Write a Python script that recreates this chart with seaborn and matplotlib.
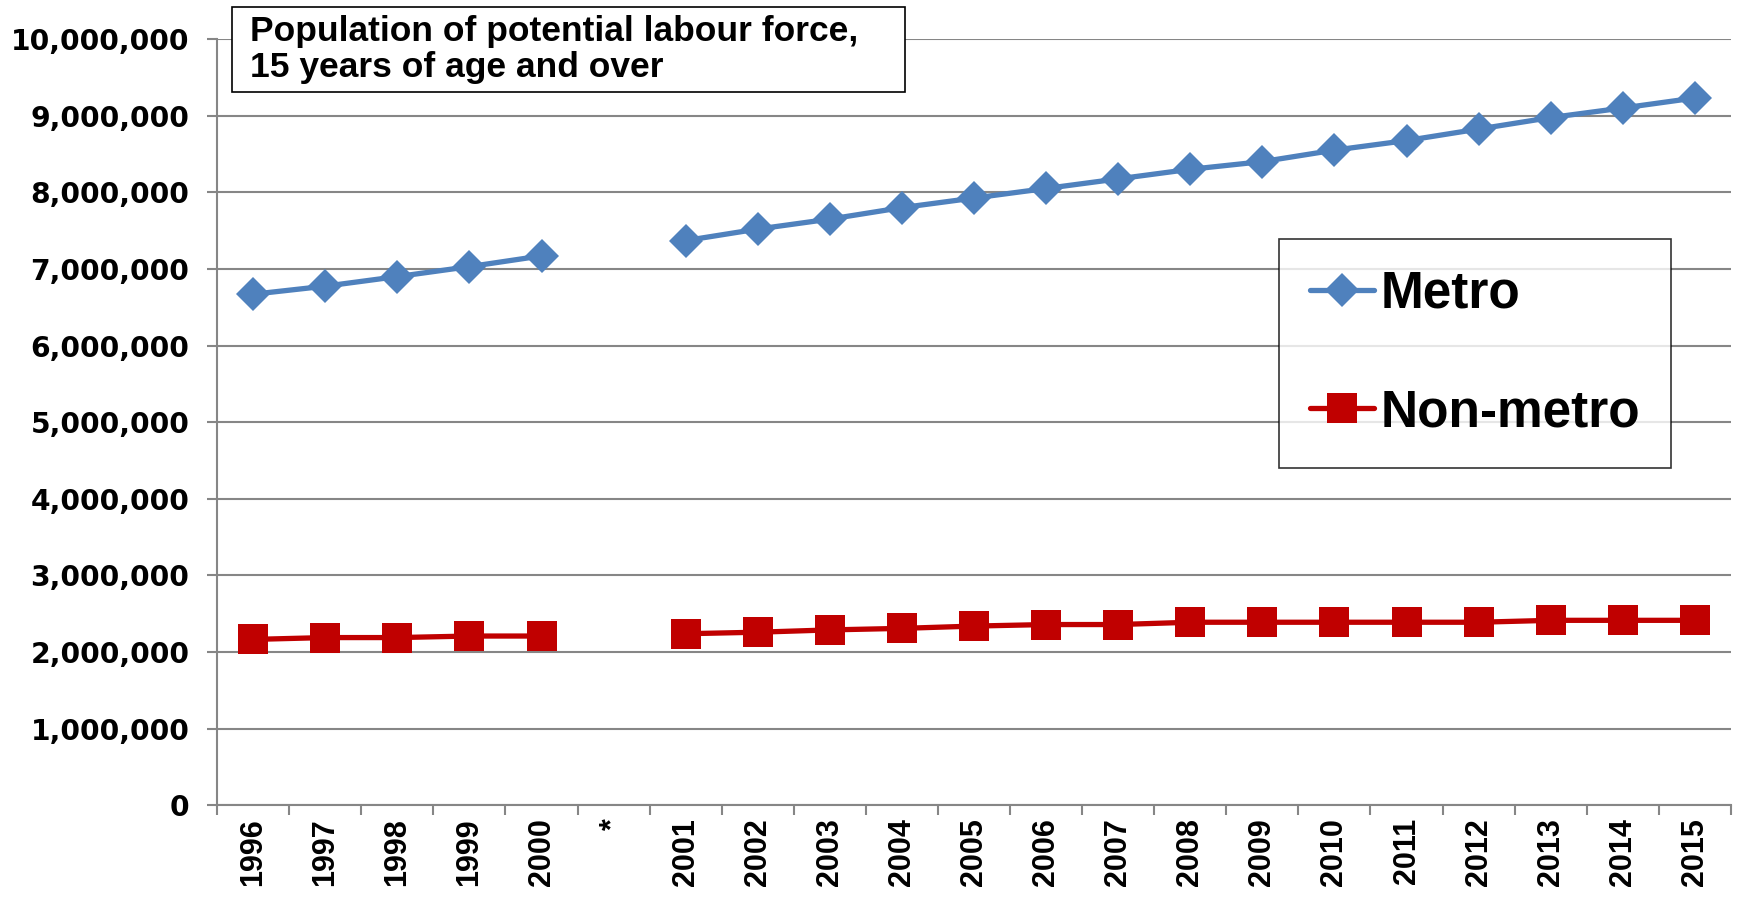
import pandas as pd
import matplotlib
matplotlib.use('Agg')
import matplotlib.pyplot as plt
from matplotlib.lines import Line2D
from matplotlib.patches import Rectangle
from matplotlib.ticker import FuncFormatter, FixedLocator
import seaborn as sns

# categories on the x axis, '*' marks the break in the series
labels = ['1996', '1997', '1998', '1999', '2000', '*',
          '2001', '2002', '2003', '2004', '2005', '2006', '2007', '2008',
          '2009', '2010', '2011', '2012', '2013', '2014', '2015']

metro = [6670000, 6775000, 6900000, 7030000, 7170000, None,
         7370000, 7520000, 7650000, 7800000, 7925000, 8050000, 8175000, 8300000,
         8400000, 8550000, 8675000, 8825000, 8975000, 9100000, 9230000]

non_metro = [2166000, 2190000, 2190000, 2210000, 2210000, None,
             2240000, 2260000, 2290000, 2310000, 2340000, 2360000, 2360000, 2390000,
             2390000, 2390000, 2390000, 2390000, 2415000, 2415000, 2415000]

title = 'Population of potential labour force,\n15 years of age and over'

blue = '#4F81BD'
red = '#C00000'
grey = '#868686'


def to_frame(values):
    df = pd.DataFrame({'pos': range(len(labels)), 'value': values})
    star = labels.index('*')
    df['segment'] = (df['pos'] > star).astype(int)
    return df.dropna()


sns.set_style('white')
plt.rcParams['font.family'] = ['Liberation Sans', 'DejaVu Sans']
plt.rcParams['text.color'] = 'black'
plt.rcParams['xtick.color'] = 'black'
plt.rcParams['ytick.color'] = 'black'

fig, ax = plt.subplots(figsize=(17.37, 9.07), dpi=100)
fig.subplots_adjust(left=0.125, right=0.9965, top=0.957, bottom=0.112)

sns.lineplot(data=to_frame(metro), x='pos', y='value', units='segment',
             estimator=None, color=blue, lw=3.8, marker='D', markersize=17.5,
             markeredgewidth=0, ax=ax, zorder=3)
sns.lineplot(data=to_frame(non_metro), x='pos', y='value', units='segment',
             estimator=None, color=red, lw=3.8, marker='s', markersize=21,
             markeredgewidth=0, ax=ax, zorder=3)

ax.set_xlim(-0.5, len(labels) - 0.5)
ax.set_ylim(0, 10000000)
ax.set_yticks(range(0, 10000001, 1000000))
ax.yaxis.set_major_formatter(FuncFormatter(lambda v, p: f'{v:,.0f}'))
ax.set_xticks(range(len(labels)))
ax.set_xticklabels(labels, rotation=90, fontsize=22, fontweight='bold', va='top')
ax.xaxis.set_minor_locator(FixedLocator([i - 0.5 for i in range(len(labels) + 1)]))
for t in ax.get_yticklabels():
    t.set_fontfamily('DejaVu Sans')
    t.set_fontweight('bold')
    t.set_fontsize(20.3)
ax.set_xlabel('')
ax.set_ylabel('')

ax.yaxis.grid(True, color=grey, lw=1.5)
ax.set_axisbelow(True)
for s in ['top', 'right']:
    ax.spines[s].set_visible(False)
for s in ['left', 'bottom']:
    ax.spines[s].set_color(grey)
    ax.spines[s].set_linewidth(1.5)
ax.tick_params(axis='y', length=7, width=1.5, color=grey, labelcolor='black', pad=13, left=True)
ax.tick_params(axis='x', which='major', length=0, pad=9, labelcolor='black')
ax.tick_params(axis='x', which='minor', length=7, width=1.5, color=grey, bottom=True)

handles = [Line2D([], [], color=blue, lw=3.8, marker='D', markersize=17.5, markeredgewidth=0),
           Line2D([], [], color=red, lw=3.8, marker='s', markersize=21, markeredgewidth=0)]
leg = ax.legend(handles, ['Metro', 'Non-metro'], loc='upper left',
                bbox_to_anchor=(0.7015, 0.739), frameon=True, fancybox=False,
                prop={'family': 'Liberation Sans', 'weight': 'bold', 'size': 37},
                handlelength=1.25, handletextpad=0.12, borderpad=0.6,
                labelspacing=1.35, borderaxespad=0)
leg.get_frame().set_edgecolor('black')
leg.get_frame().set_linewidth(1.2)
for t in leg.get_texts():
    t.set_color('black')

# title box sits over the top of the plot
fig.patches.append(Rectangle((0.1333, 0.8986), 0.3877, 0.0942, transform=fig.transFigure,
                             facecolor='white', edgecolor='black', lw=1.2, zorder=5))
fig.text(0.1439, 0.984, title, ha='left', va='top', fontsize=25.5, fontweight='bold',
         linespacing=1.12, color='black', zorder=6)

fig.savefig('out.png', dpi=100)
